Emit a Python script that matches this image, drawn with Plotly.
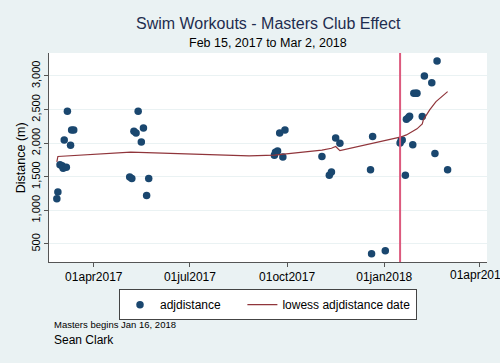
import plotly.graph_objects as go

# Workout data
dates = [
    "2017-02-25", "2017-02-26", "2017-02-28", "2017-03-02", "2017-03-03", "2017-03-06",
    "2017-03-04", "2017-03-07", "2017-03-10", "2017-03-11", "2017-03-13",
    "2017-05-05", "2017-05-07", "2017-05-09", "2017-05-11", "2017-05-13", "2017-05-16",
    "2017-05-18", "2017-05-23", "2017-05-21",
    "2017-09-19", "2017-09-20", "2017-09-22", "2017-09-27", "2017-09-24", "2017-09-29",
    "2017-11-03", "2017-11-10", "2017-11-12", "2017-11-16", "2017-11-20",
    "2017-12-19", "2017-12-21", "2017-12-20", "2018-01-02",
    "2018-01-16", "2018-01-17", "2018-01-18", "2018-01-21", "2018-01-22", "2018-01-24",
    "2018-01-25", "2018-01-28", "2018-01-29", "2018-01-31", "2018-02-01", "2018-02-06",
    "2018-02-08", "2018-02-15", "2018-02-18", "2018-02-20", "2018-03-02",
]
adjdistance = [
    1172, 1272, 1678, 1663, 1628, 1643,
    2049, 2475, 1970, 2198, 2198,
    1495, 1474, 2178, 2153, 2475, 2019,
    2227, 1474, 1221,
    1822, 1866, 1885, 1796, 2153, 2198,
    1802, 1524, 1573, 2079, 2000,
    1603, 2099, 355, 400,
    2004, 2039, 2049, 1524, 2357, 2381,
    2401, 1975, 2743, 2743, 2743, 2396,
    3000, 2901, 1846, 3223, 1603,
]

# Lowess smooth
lowess_dates = [
    "2017-02-25", "2017-02-26", "2017-05-06", "2017-08-26", "2017-09-19", "2017-11-03",
    "2017-11-12", "2017-11-16", "2017-11-20", "2018-01-16", "2018-01-22", "2018-02-01",
    "2018-02-06", "2018-02-07", "2018-02-13", "2018-02-19", "2018-03-02",
]
lowess_vals = [
    1722, 1802, 1866, 1811, 1822, 1896,
    1925, 1950, 1890, 2089, 2123, 2213,
    2287, 2346, 2495, 2618, 2767,
]

masters_start = "2018-01-16"
y_ticks = [500, 1000, 1500, 2000, 2500, 3000]
x_ticks = ["2017-04-01", "2017-07-01", "2017-10-01", "2018-01-01", "2018-04-01"]
x_tick_labels = ["01apr2017", "01jul2017", "01oct2017", "01jan2018", "01apr2018"]

BG = "#eaf2f3"
FONT = "Liberation Sans, Arial, Helvetica, sans-serif"

fig = go.Figure()
fig.add_trace(go.Scatter(
    x=dates, y=adjdistance, mode="markers", name="adjdistance" + "\u00a0" * 5,
    marker=dict(color="#1a476f", size=7.5, line=dict(width=0)),
))
fig.add_trace(go.Scatter(
    x=lowess_dates, y=lowess_vals, mode="lines", name="lowess adjdistance date",
    line=dict(color="#90353b", width=1.2),
))

fig.add_shape(type="line", xref="x", yref="paper", x0=masters_start, x1=masters_start,
              y0=0, y1=1, line=dict(color="#dc5a7e", width=2))

annotations = [
    dict(text="Swim Workouts - Masters Club Effect", xref="paper", yref="paper",
         x=0.5, y=1.1435, xanchor="center", yanchor="middle", showarrow=False,
         font=dict(size=16, color="#1e2d4f")),
    dict(text="Feb 15, 2017 to Mar 2, 2018", xref="paper", yref="paper",
         x=0.5, y=1.048, xanchor="center", yanchor="middle", showarrow=False,
         font=dict(size=12.5, color="#000000")),
    dict(text="Distance (m)", xref="paper", yref="paper", textangle=-90,
         x=-0.0646, y=0.5, xanchor="center", yanchor="middle", showarrow=False,
         font=dict(size=12.5, color="#000000")),
    dict(text="Masters begins Jan 16, 2018", xref="paper", yref="paper",
         x=0.006, y=-0.301, xanchor="left", yanchor="middle", showarrow=False,
         font=dict(size=9.5, color="#000000")),
    dict(text="Sean Clark", xref="paper", yref="paper",
         x=0.006, y=-0.373, xanchor="left", yanchor="middle", showarrow=False,
         font=dict(size=12, color="#000000")),
    # last tick label runs past the page edge, as in the original
    dict(text=x_tick_labels[-1], xref="x", yref="paper",
         x=x_ticks[-1], y=-0.062, xanchor="center", yanchor="middle", showarrow=False,
         font=dict(size=12, color="#000000")),
]

fig.update_layout(
    width=500, height=363,
    margin=dict(l=49, r=13, t=53, b=101),
    paper_bgcolor=BG, plot_bgcolor="white",
    font=dict(family=FONT, color="#000000"),
    showlegend=True,
    legend=dict(
        orientation="h", x=0.5, xanchor="center", y=-0.13, yanchor="top",
        bgcolor="white", bordercolor="#444444", borderwidth=1,
        font=dict(size=12, color="#000000"),
        itemsizing="trace", tracegroupgap=0,
    ),
    annotations=annotations,
)

fig.update_xaxes(
    type="date", range=["2017-02-17 14:00", "2018-04-08 07:00"],
    tickvals=x_ticks, ticktext=x_tick_labels[:-1] + [""],
    showgrid=False, zeroline=False,
    showline=True, linecolor="#555555", linewidth=1,
    ticks="outside", ticklen=4, tickcolor="#555555",
    tickfont=dict(size=12, color="#000000"),
)
fig.update_yaxes(
    range=[232, 3342], tickvals=y_ticks, tickformat=",d",
    tickangle=-90,
    showgrid=True, gridcolor=BG, gridwidth=1, zeroline=False,
    showline=True, linecolor="#555555", linewidth=1,
    ticks="outside", ticklen=4, tickcolor="#555555",
    tickfont=dict(size=11, color="#000000"),
)

fig.write_html(
    "out.html",
    config={"displayModeBar": False},
    post_script="document.body.style.margin='0px';document.body.style.overflow='hidden';",
)
